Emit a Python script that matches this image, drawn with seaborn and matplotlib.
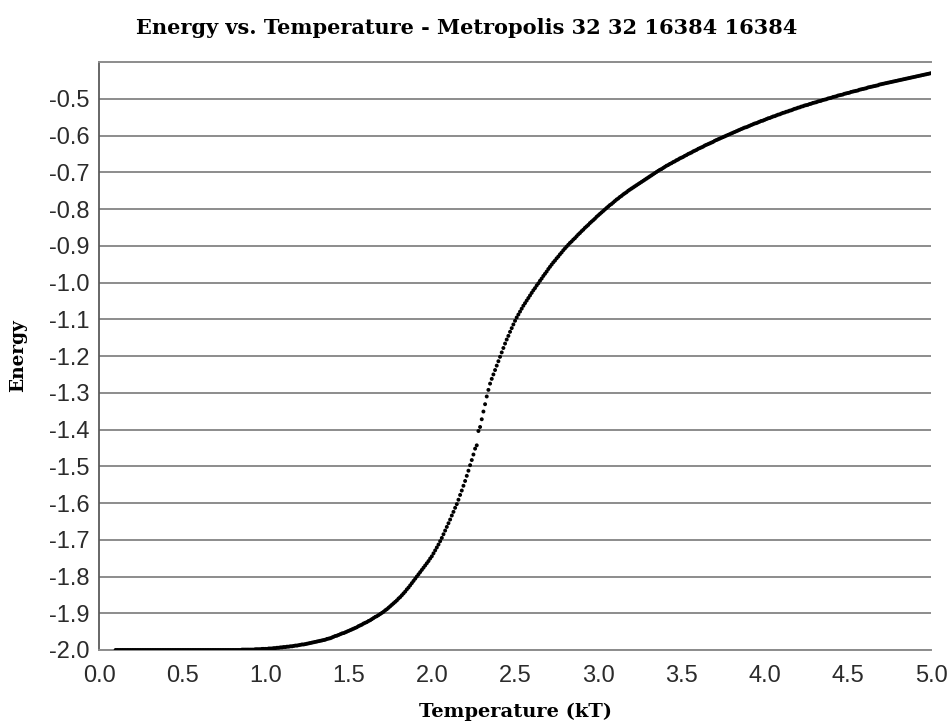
import numpy as np
import pandas as pd
import matplotlib
matplotlib.use("Agg")
import matplotlib.pyplot as plt
import seaborn as sns

# ---- chart text -------------------------------------------------------------
title = "Energy vs. Temperature - Metropolis 32 32 16384 16384"
x_label = "Temperature (kT)"
y_label = "Energy"

x_ticks = [0.0, 0.5, 1.0, 1.5, 2.0, 2.5, 3.0, 3.5, 4.0, 4.5, 5.0]
y_ticks = [-2.0, -1.9, -1.8, -1.7, -1.6, -1.5, -1.4, -1.3, -1.2, -1.1,
           -1.0, -0.9, -0.8, -0.7, -0.6, -0.5]

# ---- simulation results: mean energy per spin, one sample every 0.01 kT from 0.10
energy = [-2.000] * 71 + [
    # 0.81 - 0.90
    -2.000, -2.000, -2.000, -2.000, -2.000, -1.999, -1.999, -1.999, -1.999, -1.999,
    # 0.91 - 1.00
    -1.999, -1.999, -1.999, -1.998, -1.998, -1.998, -1.998, -1.997, -1.997, -1.997,
    # 1.01 - 1.10
    -1.997, -1.996, -1.996, -1.996, -1.995, -1.995, -1.994, -1.994, -1.993, -1.993,
    # 1.11 - 1.20
    -1.992, -1.992, -1.991, -1.991, -1.990, -1.990, -1.989, -1.988, -1.988, -1.987,
    # 1.21 - 1.30
    -1.986, -1.985, -1.985, -1.984, -1.983, -1.982, -1.981, -1.980, -1.979, -1.978,
    # 1.31 - 1.40
    -1.977, -1.976, -1.975, -1.974, -1.973, -1.972, -1.970, -1.969, -1.968, -1.966,
    # 1.41 - 1.50
    -1.964, -1.962, -1.961, -1.959, -1.957, -1.955, -1.954, -1.952, -1.950, -1.948,
    # 1.51 - 1.60
    -1.946, -1.944, -1.942, -1.940, -1.938, -1.935, -1.933, -1.931, -1.928, -1.926,
    # 1.61 - 1.70
    -1.924, -1.921, -1.919, -1.916, -1.913, -1.910, -1.908, -1.905, -1.902, -1.899,
    # 1.71 - 1.80
    -1.896, -1.892, -1.889, -1.885, -1.881, -1.877, -1.873, -1.869, -1.865, -1.860,
    # 1.81 - 1.90
    -1.856, -1.851, -1.846, -1.841, -1.835, -1.830, -1.824, -1.818, -1.812, -1.806,
    # 1.91 - 2.00
    -1.800, -1.794, -1.788, -1.782, -1.776, -1.770, -1.764, -1.758, -1.751, -1.745,
    # 2.01 - 2.10
    -1.737, -1.729, -1.721, -1.713, -1.704, -1.695, -1.685, -1.675, -1.665, -1.655,
    # 2.11 - 2.20
    -1.645, -1.634, -1.624, -1.613, -1.603, -1.591, -1.578, -1.566, -1.553, -1.540,
    # 2.21 - 2.30
    -1.526, -1.512, -1.497, -1.483, -1.468, -1.452, -1.443, -1.404, -1.393, -1.372,
    # 2.31 - 2.40
    -1.351, -1.331, -1.310, -1.292, -1.275, -1.262, -1.250, -1.238, -1.226, -1.214,
    # 2.41 - 2.50
    -1.202, -1.190, -1.178, -1.166, -1.155, -1.145, -1.134, -1.124, -1.114, -1.104,
    # 2.51 - 2.60
    -1.095, -1.087, -1.079, -1.071, -1.063, -1.056, -1.049, -1.042, -1.035, -1.028,
    # 2.61 - 2.70
    -1.021, -1.015, -1.008, -1.002, -0.995, -0.989, -0.982, -0.976, -0.970, -0.963,
    # 2.71 - 2.80
    -0.957, -0.951, -0.945, -0.940, -0.934, -0.929, -0.923, -0.918, -0.912, -0.907,
    # 2.81 - 2.90
    -0.902, -0.897, -0.892, -0.888, -0.883, -0.879, -0.874, -0.869, -0.865, -0.860,
    # 2.91 - 3.00
    -0.856, -0.851, -0.847, -0.843, -0.838, -0.834, -0.830, -0.826, -0.821, -0.817,
    # 3.01 - 3.10
    -0.813, -0.809, -0.805, -0.801, -0.797, -0.793, -0.789, -0.786, -0.782, -0.778,
    # 3.11 - 3.20
    -0.774, -0.771, -0.767, -0.764, -0.760, -0.757, -0.754, -0.750, -0.747, -0.744,
    # 3.21 - 3.30
    -0.741, -0.738, -0.735, -0.732, -0.729, -0.726, -0.723, -0.720, -0.717, -0.714,
    # 3.31 - 3.40
    -0.711, -0.708, -0.705, -0.702, -0.699, -0.696, -0.693, -0.691, -0.688, -0.685,
    # 3.41 - 3.50
    -0.682, -0.680, -0.677, -0.675, -0.672, -0.670, -0.667, -0.665, -0.662, -0.660,
    # 3.51 - 3.60
    -0.658, -0.655, -0.653, -0.650, -0.648, -0.646, -0.643, -0.641, -0.639, -0.636,
    # 3.61 - 3.70
    -0.634, -0.632, -0.630, -0.627, -0.625, -0.623, -0.621, -0.619, -0.617, -0.614,
    # 3.71 - 3.80
    -0.612, -0.610, -0.608, -0.606, -0.604, -0.602, -0.600, -0.598, -0.596, -0.594,
    # 3.81 - 3.90
    -0.592, -0.590, -0.588, -0.586, -0.584, -0.582, -0.580, -0.578, -0.577, -0.575,
    # 3.91 - 4.00
    -0.573, -0.571, -0.569, -0.567, -0.566, -0.564, -0.562, -0.560, -0.559, -0.557,
    # 4.01 - 4.10
    -0.555, -0.553, -0.552, -0.550, -0.548, -0.547, -0.545, -0.543, -0.542, -0.540,
    # 4.11 - 4.20
    -0.538, -0.537, -0.535, -0.534, -0.532, -0.531, -0.529, -0.527, -0.526, -0.524,
    # 4.21 - 4.30
    -0.523, -0.521, -0.520, -0.518, -0.517, -0.516, -0.514, -0.513, -0.511, -0.510,
    # 4.31 - 4.40
    -0.509, -0.507, -0.506, -0.505, -0.503, -0.502, -0.501, -0.499, -0.498, -0.497,
    # 4.41 - 4.50
    -0.495, -0.494, -0.493, -0.491, -0.490, -0.489, -0.488, -0.486, -0.485, -0.484,
    # 4.51 - 4.60
    -0.483, -0.481, -0.480, -0.479, -0.478, -0.477, -0.475, -0.474, -0.473, -0.472,
    # 4.61 - 4.70
    -0.471, -0.469, -0.468, -0.467, -0.466, -0.465, -0.464, -0.463, -0.461, -0.460,
    # 4.71 - 4.80
    -0.459, -0.458, -0.457, -0.456, -0.455, -0.454, -0.453, -0.452, -0.451, -0.450,
    # 4.81 - 4.90
    -0.449, -0.448, -0.447, -0.446, -0.445, -0.444, -0.443, -0.442, -0.441, -0.440,
    # 4.91 - 5.00
    -0.439, -0.438, -0.437, -0.436, -0.435, -0.434, -0.433, -0.432, -0.431, -0.430,
]

# temperature grid of the sweep (0.10 kT to 5.00 kT in 0.01 steps)
temperature = np.round(0.10 + 0.01 * np.arange(len(energy)), 2)

df = pd.DataFrame({"Temperature": temperature, "Energy": energy})

# ---- styling ----------------------------------------------------------------
sns.set_theme(style="white")
plt.rcParams["font.family"] = ["Liberation Sans", "DejaVu Sans"]

fig = plt.figure(figsize=(9.52, 7.23), dpi=100)
ax = fig.add_axes([0.104, 0.101, 0.874, 0.813])

sns.scatterplot(data=df, x="Temperature", y="Energy", ax=ax,
                color="black", s=8, linewidth=0, edgecolor="none", zorder=3)

ax.set_xlim(0.0, 5.0)
ax.set_ylim(-2.0, -0.4)
ax.set_xticks(x_ticks)
ax.set_yticks(y_ticks)
ax.set_xticklabels([f"{v:.1f}" for v in x_ticks])
ax.set_yticklabels([f"{v:.1f}" for v in y_ticks])

grid_grey = "#8c8c8c"
ax.yaxis.grid(True, color=grid_grey, linewidth=1.4)
ax.xaxis.grid(False)
ax.set_axisbelow(True)

ax.spines["right"].set_visible(False)
ax.spines["top"].set_color(grid_grey)
ax.spines["top"].set_linewidth(1.4)
ax.spines["left"].set_color("#5a5a5a")
ax.spines["left"].set_linewidth(1.3)
ax.spines["bottom"].set_color(grid_grey)
ax.spines["bottom"].set_linewidth(1.4)

ax.tick_params(axis="both", which="major", direction="out", length=5,
               width=1.2, color="#7a7a7a", labelsize=17, labelcolor="#2b2b2b")
ax.tick_params(axis="y", pad=2)
ax.tick_params(axis="x", pad=6)

serif_bold = dict(family="DejaVu Serif", weight="bold", color="black")
ax.set_xlabel(x_label, fontsize=14, va="center", **serif_bold)
ax.set_ylabel(y_label, fontsize=13.3, va="center", **serif_bold)
ax.xaxis.set_label_coords(0.5, -0.105)
ax.yaxis.set_label_coords(-0.097, 0.5)
fig.text(0.49, 0.961, title, ha="center", va="center", fontsize=15, **serif_bold)

fig.savefig("out.png", dpi=100)
